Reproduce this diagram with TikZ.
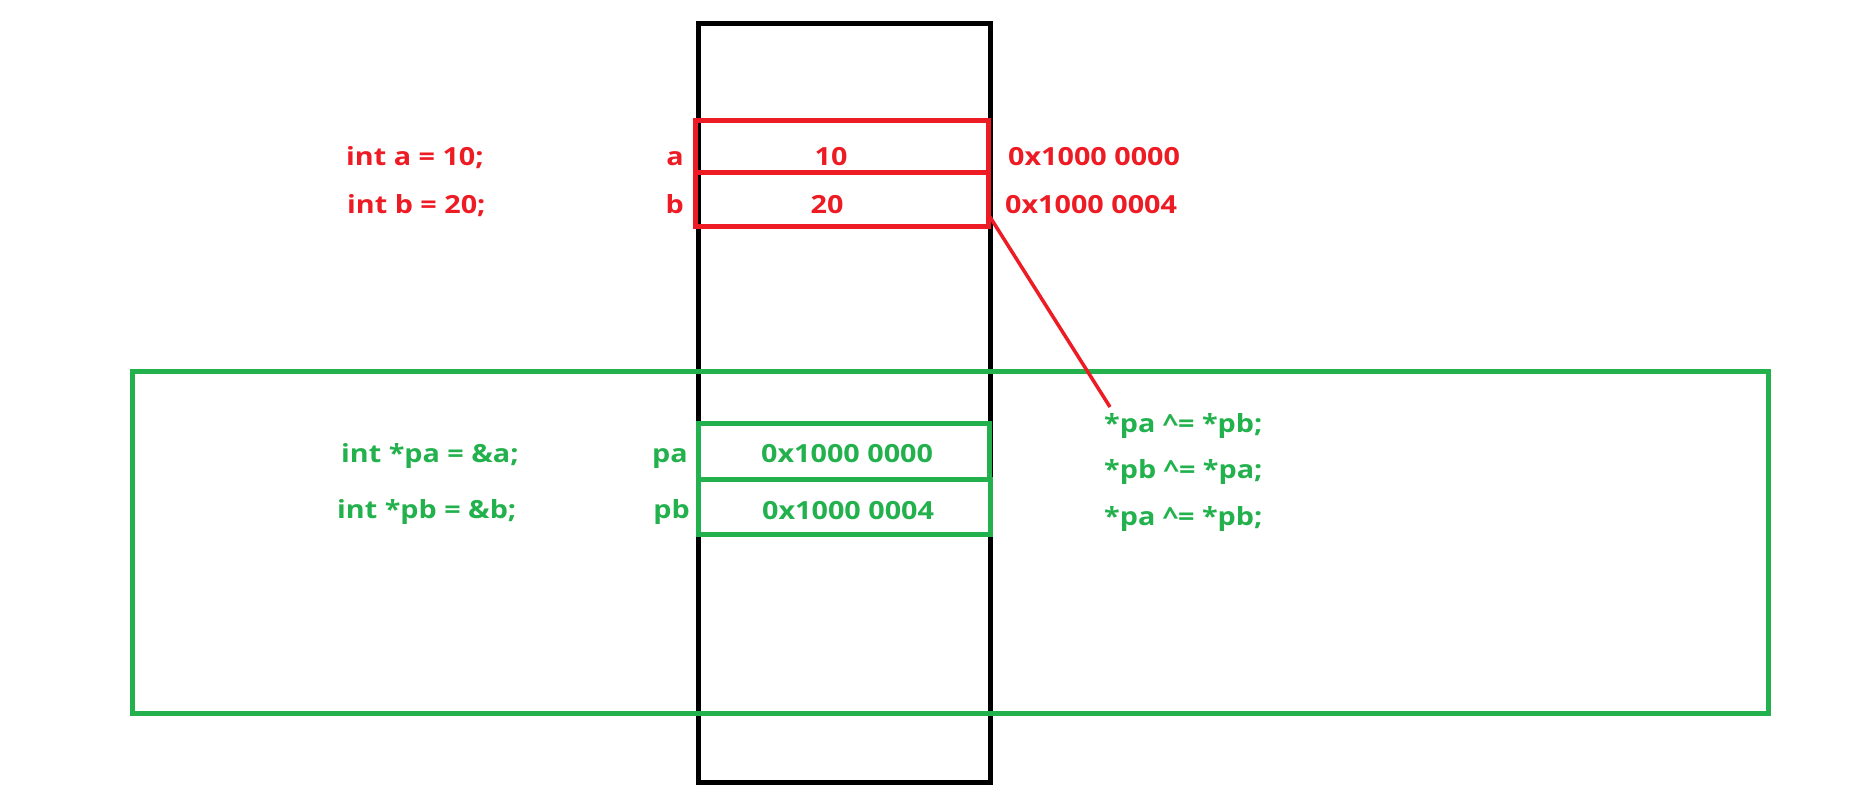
\documentclass[tikz,border=0pt]{standalone}
\usepackage{fontspec}
\setmainfont[FakeStretch=1.15]{Open Sans}
\definecolor{pred}{RGB}{237,28,36}
\definecolor{pgreen}{RGB}{34,177,76}
\begin{document}
\begin{tikzpicture}[x=1pt,y=-1pt,
  lbl/.style={inner sep=0pt, font=\fontsize{25}{30}\selectfont\bfseries},
  rlbl/.style={lbl, text=pred},
  glbl/.style={lbl, text=pgreen},
  cell/.style={draw, line width=5pt, minimum width=293pt, inner sep=0pt},
  rcell/.style={cell, draw=pred},
  gcell/.style={cell, draw=pgreen},
  frame/.style={draw, line width=5pt, inner sep=0pt}
]
\useasboundingbox (0,0) rectangle (1861,792);
% memory column
\node[frame, draw=black, minimum width=292pt, minimum height=758.5pt] (mem) at (844,402.75) {};
% green region
\node[frame, draw=pgreen, minimum width=1636pt, minimum height=342pt] (region) at (950.5,542.5) {};
% red cells
\node[rcell, minimum height=52pt] (boxa) at (841.5,146.5) {};
\node[rcell, minimum height=53.5pt] (boxb) at (841.5,199.25) {};
% green cells
\node[gcell, minimum width=291pt, minimum height=56pt] (boxpa) at (843.5,451) {};
\node[gcell, minimum width=292.5pt, minimum height=55pt] (boxpb) at (844.25,506.5) {};
% red texts
\node[rlbl, anchor=base west] (inta) at (346,165) {int a = 10;};
\node[rlbl, anchor=base west] (intb) at (347,213) {int b = 20;};
\node[rlbl, anchor=base east] (na) at (684,165) {a};
\node[rlbl, anchor=base east] (nb) at (684,213) {b};
\node[rlbl, anchor=base] (va) at (831,165) {10};
\node[rlbl, anchor=base] (vb) at (827,213) {20};
\node[rlbl, anchor=base west] (ada) at (1008,165) {0x1000 0000};
\node[rlbl, anchor=base west] (adb) at (1005,213) {0x1000 0004};
% green texts
\node[glbl, anchor=base west] (ipa) at (341,462) {int *pa = \&a;};
\node[glbl, anchor=base west] (ipb) at (337,518) {int *pb = \&b;};
\node[glbl, anchor=base east] (npa) at (688,462) {pa};
\node[glbl, anchor=base east] (npb) at (690,518) {pb};
\node[glbl, anchor=base west] (vpa) at (761,462) {0x1000 0000};
\node[glbl, anchor=base west] (vpb) at (762,519) {0x1000 0004};
\node[glbl, anchor=base west] (x1) at (1104,432) {*pa \^{}= *pb;};
\node[glbl, anchor=base west] (x2) at (1104,478) {*pb \^{}= *pa;};
\node[glbl, anchor=base west] (x3) at (1104,525) {*pa \^{}= *pb;};
% red connector
\coordinate (rs) at (990,217);
\coordinate (re) at (1110,407);
\draw[pred, line width=3.5pt] (rs) -- (re);
\end{tikzpicture}
\end{document}
